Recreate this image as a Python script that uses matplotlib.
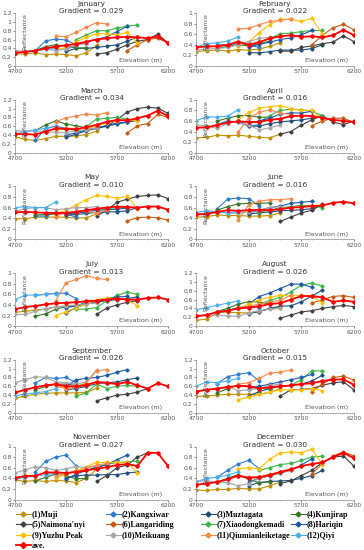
import numpy as np
import matplotlib.pyplot as plt

names = ["(1)Muji", "(2)Kangxiwar", "(3)Muztagata", "(4)Kunjirap",
         "(5)Naimona'nyi", "(6)Langariding", "(7)Xiaodongkemadi", "(8)Hariqin",
         "(9)Yuzhu Peak", "(10)Meikuang", "(11)Qiumianleiketage", "(12)Qiyi", "ave."]
colors = ["#BF8F00", "#2E7BCF", "#1F4E79", "#38762B", "#404040", "#C55A11",
          "#3CB44B", "#1E5AA8", "#FFC000", "#A6A6A6", "#F4894B", "#4AAEEA", "#FF0000"]
# first elevation of every series (m)
starts = [4700, 4900, 5200, 4900, 5500, 5800, 5300, 5200, 5100, 4700, 5100, 4700, 4700]

months = ["January", "February", "March", "April", "May", "June",
          "July", "August", "September", "October", "November", "December"]
gradients = [0.029, 0.022, 0.034, 0.016, 0.010, 0.016, 0.013, 0.026, 0.026, 0.015, 0.027, 0.030]
ymax = [1.2, 1.0, 1.2, 1.0, 1.0, 1.0, 1.0, 1.2, 1.2, 1.2, 1.0, 1.0]

jan = [[0.28, 0.27, 0.30, 0.26, 0.27, 0.26, 0.23, 0.30, 0.47],
       [0.35, 0.57, 0.61, 0.59, 0.48],
       [0.33, 0.40, 0.40, 0.42, 0.45, 0.48, 0.56, 0.66],
       [0.35, 0.44, 0.48, 0.45, 0.41, 0.41],
       [0.27, 0.30, 0.38, 0.48, 0.56, 0.60, 0.72, 0.52],
       [0.35, 0.48, 0.60, 0.63, 0.52],
       [0.60, 0.70, 0.80, 0.80, 0.86, 0.90, 0.93],
       [0.38, 0.47, 0.55, 0.60, 0.66, 0.78, 0.90],
       [0.36, 0.42, 0.55, 0.65, 0.73, 0.73, 0.71, 0.76, 0.52],
       [0.35, 0.33, 0.35, 0.38, 0.35, 0.38, 0.48, 0.50],
       [0.68, 0.66, 0.76, 0.88, 0.98, 0.95],
       [0.30, 0.32, 0.34, 0.38, 0.40],
       [0.30, 0.32, 0.35, 0.40, 0.44, 0.47, 0.50, 0.55, 0.60, 0.63, 0.65, 0.66, 0.65, 0.63, 0.67, 0.52]]
feb = [[0.27, 0.29, 0.30, 0.28, 0.31, 0.30, 0.32, 0.37, 0.44],
       [0.40, 0.40, 0.42, 0.40, 0.35],
       [0.25, 0.25, 0.27, 0.30, 0.30, 0.30, 0.33, 0.40],
       [0.33, 0.37, 0.40, 0.38, 0.42, 0.47],
       [0.28, 0.28, 0.35, 0.38, 0.42, 0.45, 0.57, 0.46],
       [0.40, 0.58, 0.72, 0.79, 0.68],
       [0.45, 0.52, 0.61, 0.62, 0.65, 0.67, 0.67],
       [0.35, 0.41, 0.45, 0.50, 0.53, 0.59, 0.67],
       [0.38, 0.45, 0.63, 0.78, 0.88, 0.88, 0.84, 0.90, 0.60],
       [0.30, 0.32, 0.33, 0.35, 0.40, 0.46, 0.52, 0.54, 0.55],
       [0.70, 0.71, 0.78, 0.84, 0.86, 0.89],
       [0.36, 0.42, 0.44, 0.47, 0.55],
       [0.35, 0.37, 0.37, 0.40, 0.46, 0.40, 0.45, 0.52, 0.56, 0.58, 0.55, 0.56, 0.54, 0.58, 0.68, 0.58]]
mar = [[0.36, 0.30, 0.28, 0.32, 0.37, 0.37, 0.38, 0.41, 0.49],
       [0.28, 0.55, 0.60, 0.55, 0.50],
       [0.35, 0.42, 0.50, 0.55, 0.60, 0.65, 0.69, 0.73],
       [0.50, 0.63, 0.72, 0.65, 0.61, 0.56],
       [0.57, 0.60, 0.75, 0.92, 1.00, 1.03, 1.01, 0.89],
       [0.45, 0.61, 0.66, 0.87, 0.80],
       [0.50, 0.60, 0.76, 0.78, 0.80, 0.76, 0.73],
       [0.40, 0.45, 0.52, 0.56, 0.62, 0.67, 0.70],
       [0.50, 0.55, 0.55, 0.55, 0.60, 0.68, 0.72, 0.75, 0.72],
       [0.50, 0.48, 0.50, 0.48, 0.46, 0.45, 0.50, 0.52, 0.56],
       [0.70, 0.79, 0.83, 0.88, 0.85, 0.91],
       [0.42, 0.48, 0.52, 0.55, 0.60],
       [0.42, 0.42, 0.41, 0.48, 0.55, 0.54, 0.53, 0.58, 0.63, 0.70, 0.74, 0.73, 0.78, 0.84, 0.95, 0.83]]
apr = [[0.28, 0.29, 0.33, 0.32, 0.33, 0.31, 0.29, 0.28, 0.35],
       [0.53, 0.60, 0.58, 0.50, 0.53],
       [0.50, 0.50, 0.55, 0.58, 0.60, 0.62, 0.65, 0.70],
       [0.60, 0.65, 0.70, 0.70, 0.67, 0.67],
       [0.35, 0.40, 0.52, 0.62, 0.70, 0.58, 0.53, 0.60],
       [0.51, 0.60, 0.65, 0.65, 0.57],
       [0.58, 0.70, 0.80, 0.82, 0.81, 0.78, 0.70],
       [0.55, 0.60, 0.65, 0.73, 0.75, 0.75, 0.78],
       [0.62, 0.76, 0.84, 0.87, 0.89, 0.83, 0.80, 0.80, 0.63],
       [0.53, 0.50, 0.46, 0.55, 0.60, 0.52, 0.43, 0.47, 0.52],
       [0.39, 0.65, 0.76, 0.81, 0.75, 0.72],
       [0.60, 0.68, 0.67, 0.69, 0.81],
       [0.47, 0.48, 0.52, 0.57, 0.59, 0.58, 0.58, 0.62, 0.64, 0.69, 0.70, 0.69, 0.66, 0.62, 0.60, 0.58]]
may = [[0.39, 0.39, 0.42, 0.42, 0.42, 0.42, 0.40, 0.41, 0.48],
       [0.44, 0.44, 0.50, 0.48, 0.42],
       [0.46, 0.47, 0.49, 0.51, 0.52, 0.52, 0.54, 0.60],
       [0.46, 0.47, 0.48, 0.50, 0.50, 0.52],
       [0.44, 0.55, 0.70, 0.76, 0.81, 0.83, 0.84, 0.77],
       [0.35, 0.41, 0.42, 0.41, 0.36],
       [0.50, 0.55, 0.57, 0.58, 0.60, 0.60, 0.60],
       [0.48, 0.50, 0.52, 0.55, 0.56, 0.57, 0.59],
       [0.48, 0.55, 0.65, 0.75, 0.83, 0.81, 0.78, 0.81, 0.58],
       [0.53, 0.58, 0.60, 0.60, 0.56, 0.58, 0.60, 0.60, 0.62],
       [0.45, 0.50, 0.52, 0.53, 0.50, 0.55],
       [0.60, 0.62, 0.60, 0.60, 0.71],
       [0.51, 0.52, 0.51, 0.50, 0.50, 0.50, 0.52, 0.55, 0.58, 0.60, 0.62, 0.61, 0.60, 0.62, 0.62, 0.56]]
jun = [[0.42, 0.43, 0.46, 0.45, 0.45, 0.44, 0.44, 0.45, 0.50],
       [0.58, 0.76, 0.78, 0.77, 0.63],
       [0.48, 0.50, 0.52, 0.54, 0.55, 0.56, 0.58, 0.65],
       [0.55, 0.62, 0.67, 0.68, 0.68, 0.69],
       [0.34, 0.42, 0.50, 0.55, 0.66],
       [],
       [0.52, 0.55, 0.60, 0.62, 0.64, 0.63, 0.60],
       [0.50, 0.55, 0.60, 0.63, 0.68, 0.70, 0.72],
       [],
       [0.48, 0.50, 0.52, 0.50, 0.49, 0.52, 0.55, 0.60, 0.62],
       [0.37, 0.65, 0.72, 0.75, 0.75, 0.77],
       [0.51, 0.54, 0.52, 0.50, 0.52],
       [0.47, 0.48, 0.52, 0.55, 0.54, 0.55, 0.56, 0.55, 0.57, 0.60, 0.61, 0.63, 0.64, 0.69, 0.71, 0.68]]
jul = [[0.26, 0.28, 0.30, 0.32, 0.36, 0.38, 0.38, 0.42, 0.45],
       [0.58, 0.60, 0.62, 0.62, 0.52],
       [0.25, 0.35, 0.42, 0.45, 0.48, 0.50, 0.52, 0.55],
       [0.19, 0.23, 0.32, 0.37, 0.38, 0.43],
       [0.22, 0.34, 0.40, 0.45, 0.48],
       [],
       [0.32, 0.32, 0.35, 0.48, 0.58, 0.64, 0.60],
       [0.35, 0.38, 0.45, 0.48, 0.52, 0.55, 0.56],
       [0.20, 0.27, 0.35, 0.42, 0.50, 0.53, 0.52, 0.50, 0.38],
       [0.22, 0.22, 0.28, 0.33, 0.36, 0.38, 0.40, 0.42, 0.44],
       [0.48, 0.82, 0.88, 0.95, 0.90, 0.88],
       [0.50, 0.58, 0.59, 0.60, 0.61],
       [0.32, 0.36, 0.38, 0.41, 0.43, 0.44, 0.45, 0.47, 0.48, 0.50, 0.52, 0.50, 0.50, 0.53, 0.54, 0.50]]
aug = [[0.13, 0.16, 0.30, 0.32, 0.30, 0.30, 0.33, 0.40, 0.42],
       [0.30, 0.35, 0.42, 0.45, 0.42],
       [0.28, 0.33, 0.40, 0.45, 0.46, 0.55, 0.68, 0.82],
       [0.33, 0.40, 0.50, 0.55, 0.55, 0.50],
       [0.18, 0.25, 0.32, 0.35, 0.40, 0.44, 0.47, 0.44],
       [0.52, 0.60, 0.67, 0.69, 0.65],
       [0.50, 0.58, 0.65, 0.77, 0.93, 0.97, 0.91],
       [0.50, 0.67, 0.75, 0.85, 0.95, 0.95, 0.88],
       [0.40, 0.50, 0.60, 0.65, 0.70, 0.68, 0.70, 0.68, 0.52],
       [0.25, 0.25, 0.25, 0.23, 0.22, 0.30, 0.35, 0.38, 0.40],
       [0.40, 0.45, 0.50, 0.55, 0.58, 0.70],
       [0.37, 0.42, 0.47, 0.52, 0.57],
       [0.22, 0.25, 0.32, 0.35, 0.40, 0.42, 0.45, 0.50, 0.52, 0.60, 0.68, 0.68, 0.65, 0.55, 0.58, 0.55]]
sep = [[0.33, 0.38, 0.42, 0.44, 0.45, 0.45, 0.45, 0.46, 0.56],
       [0.68, 0.80, 0.78, 0.80, 0.68],
       [0.52, 0.55, 0.60, 0.66, 0.68, 0.70, 0.75, 0.79],
       [0.52, 0.60, 0.65, 0.65, 0.62, 0.60],
       [0.27, 0.34, 0.40, 0.42, 0.47, 0.55],
       [],
       [0.38, 0.45, 0.65, 0.55, 0.60, 0.62, 0.60],
       [0.60, 0.75, 0.78, 0.80, 0.85, 0.92, 0.98],
       [0.62, 0.58, 0.62, 0.65, 0.68],
       [0.68, 0.75, 0.82, 0.80, 0.70, 0.68, 0.65, 0.70, 0.97],
       [0.60, 0.55, 0.58, 0.68, 0.95, 0.98],
       [0.38, 0.43, 0.45, 0.48, 0.55],
       [0.46, 0.52, 0.58, 0.62, 0.65, 0.60, 0.60, 0.63, 0.70, 0.68, 0.65, 0.70, 0.62, 0.55, 0.67, 0.60]]
oct_ = [[0.37, 0.38, 0.40, 0.42, 0.42, 0.42, 0.42, 0.46, 0.55],
        [0.66, 0.82, 0.87, 0.91, 0.72],
        [0.38, 0.48, 0.55, 0.60, 0.62, 0.65, 0.72, 0.85],
        [0.45, 0.55, 0.63, 0.60, 0.58, 0.55],
        [0.38, 0.52, 0.53, 0.55, 0.62, 0.68, 0.70, 0.52],
        [0.47, 0.65, 0.80, 0.83, 0.74],
        [0.55, 0.57, 0.60, 0.62, 0.75, 0.95, 0.95],
        [0.55, 0.60, 0.65, 0.70, 0.75, 0.80, 0.87],
        [0.30, 0.35, 0.42, 0.47, 0.52, 0.52, 0.52, 0.55, 0.50],
        [0.50, 0.52, 0.55, 0.60, 0.50, 0.52, 0.55, 0.62, 0.65],
        [0.65, 0.68, 0.78, 0.90, 0.92, 0.97],
        [0.60, 0.70, 0.68, 0.72, 0.78],
        [0.48, 0.52, 0.55, 0.58, 0.61, 0.60, 0.55, 0.58, 0.60, 0.62, 0.65, 0.67, 0.72, 0.75, 0.76, 0.63]]
nov = [[0.37, 0.34, 0.36, 0.34, 0.36, 0.35, 0.32, 0.40, 0.57],
       [0.52, 0.72, 0.80, 0.84, 0.63],
       [0.40, 0.45, 0.46, 0.46, 0.47, 0.47, 0.50, 0.52],
       [0.35, 0.42, 0.48, 0.45, 0.39, 0.40],
       [0.34, 0.45, 0.60, 0.65, 0.80, 0.88],
       [],
       [0.50, 0.55, 0.62, 0.66, 0.70, 0.71, 0.72],
       [0.38, 0.48, 0.55, 0.60, 0.66, 0.75, 0.84],
       [0.40, 0.48, 0.55, 0.62, 0.70, 0.70, 0.70, 0.70, 0.50],
       [0.50, 0.56, 0.62, 0.60, 0.55, 0.58, 0.62, 0.60, 0.63],
       [0.45, 0.50, 0.52, 0.60, 0.65, 0.68],
       [0.38, 0.42, 0.44, 0.47, 0.50],
       [0.41, 0.44, 0.45, 0.51, 0.51, 0.50, 0.52, 0.55, 0.58, 0.61, 0.65, 0.67, 0.63, 0.88, 0.88, 0.63]]
dec = [[0.18, 0.17, 0.19, 0.19, 0.21, 0.20, 0.20, 0.26, 0.33],
       [0.42, 0.55, 0.67, 0.74, 0.58],
       [0.26, 0.32, 0.34, 0.35, 0.36, 0.40, 0.45, 0.55],
       [0.33, 0.40, 0.47, 0.38, 0.32, 0.33],
       [0.30, 0.35, 0.45, 0.55, 0.70, 0.80, 0.82, 0.63],
       [0.48, 0.68, 0.82, 0.90, 0.82],
       [0.55, 0.60, 0.66, 0.68, 0.74, 0.80, 0.82],
       [0.33, 0.40, 0.45, 0.50, 0.55, 0.65, 0.77],
       [0.58, 0.60, 0.58, 0.76, 0.88, 0.90, 0.88, 0.95, 0.65],
       [0.35, 0.35, 0.33, 0.32, 0.26, 0.30, 0.40, 0.45, 0.50],
       [0.45, 0.42, 0.43, 0.48, 0.52, 0.55],
       [0.33, 0.40, 0.42, 0.46, 0.52],
       [0.28, 0.30, 0.33, 0.38, 0.45, 0.41, 0.42, 0.46, 0.52, 0.57, 0.63, 0.67, 0.70, 0.80, 0.88, 0.78]]

monthly = [jan, feb, mar, apr, may, jun, jul, aug, sep, oct_, nov, dec]

W, H = 364, 550
fig = plt.figure(figsize=(W / 100, H / 100), dpi=100)

lines = []
for i, m in enumerate(months):
    col, row = i % 2, i // 2
    if col == 0:
        x0, x1 = 15, 168
    else:
        x0, x1 = 196, 354
    top = 13 + 86.7 * row
    bot = 66 + 86.7 * row
    ax = fig.add_axes([x0 / W, 1 - bot / H, (x1 - x0) / W, (bot - top) / H])
    data = monthly[i]
    for k in range(13):
        vals = data[k]
        if len(vals) == 0:
            continue
        elev = starts[k] + 100 * np.arange(len(vals))
        lw = 1.3 if k == 12 else 0.8
        ln, = ax.plot(elev, vals, color=colors[k], lw=lw, marker='D',
                      ms=1.6 if k < 12 else 1.9, zorder=3 if k == 12 else 2)
        if i == 0:
            lines.append(ln)
    ax.set_xlim(4700, 6200)
    ax.set_ylim(0, ymax[i])
    ax.set_xticks([4700, 5200, 5700, 6200])
    ax.set_xticks(np.arange(4700, 6201, 100), minor=True)
    yt = np.arange(0, ymax[i] + 0.01, 0.2)
    ax.set_yticks(yt)
    ax.set_yticklabels(["%g" % round(v, 1) for v in yt])
    ax.tick_params(labelsize=4.3, colors="#555555", length=1.5, width=0.5, pad=1)
    ax.tick_params(which='minor', length=1.0, width=0.4, color="#999999")
    for s in ["top", "right"]:
        ax.spines[s].set_visible(False)
    for s in ["left", "bottom"]:
        ax.spines[s].set_color("#A0A0A0")
        ax.spines[s].set_linewidth(0.6)
    ax.text(0.5, 1.17, m, transform=ax.transAxes, ha='center', va='center',
            fontsize=5.3, color="#333333")
    ax.text(0.5, 1.03, "Gradient = %.3f" % gradients[i], transform=ax.transAxes,
            ha='center', va='center', fontsize=5.3, color="#333333")
    ax.text(0.045, 0.99, "Reflectance", transform=ax.transAxes, rotation=90,
            ha='left', va='top', fontsize=4.5, color="#555555")
    ax.text(0.96, 0.1, "Elevation (m)", transform=ax.transAxes,
            ha='right', va='center', fontsize=4.6, color="#555555")

# legend: four columns laid out row by row
legend_cols = [[0, 4, 8, 12], [1, 5, 9], [2, 6, 10], [3, 7, 11]]
col_x = [16, 106, 201, 291]
for cx, idx in zip(col_x, legend_cols):
    fig.legend([lines[j] for j in idx], [names[j] for j in idx],
               loc='upper left', bbox_to_anchor=(cx / W, 1 - 511 / H),
               frameon=False,
               prop={'family': 'Liberation Serif', 'size': 5.8, 'weight': 'bold'},
               handlelength=1.8, handletextpad=0.2, labelspacing=0.28,
               borderaxespad=0, borderpad=0, markerscale=1.6)

fig.savefig("out.png", dpi=100)
